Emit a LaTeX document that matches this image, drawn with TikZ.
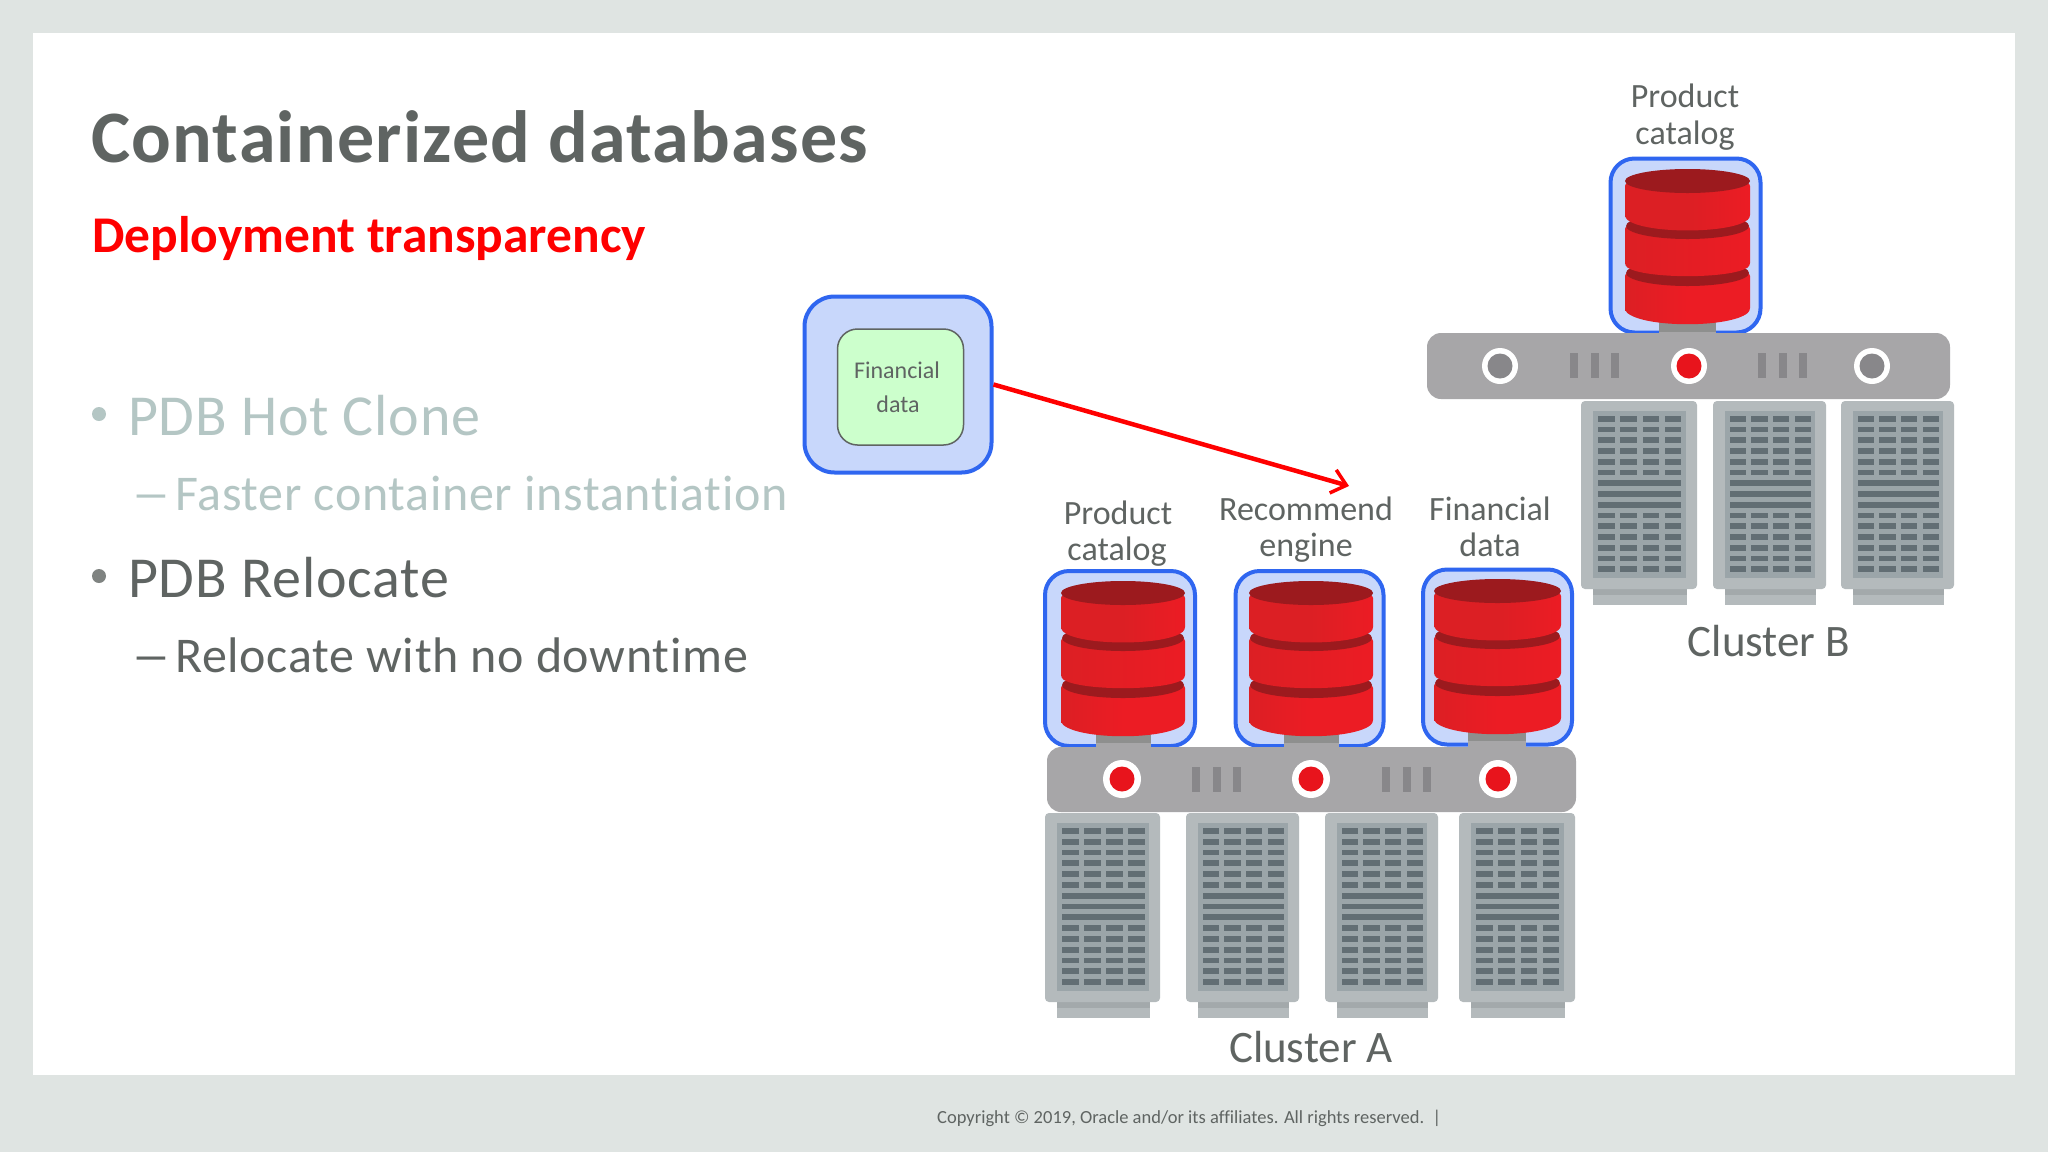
\documentclass[tikz,border=0pt]{standalone}
\usepackage{fontspec}
\usetikzlibrary{arrows.meta}
\setmainfont{Carlito}[Ligatures=NoCommon]
\definecolor{slidebg}{HTML}{DFE4E2}
\definecolor{txtgrey}{HTML}{5F6462}
\definecolor{txtfade}{HTML}{B4C6C4}
\definecolor{boxblue}{HTML}{2F66F0}
\definecolor{boxfill}{HTML}{C8D7FB}
\definecolor{greenfill}{HTML}{CCFFCC}
\definecolor{barfill}{HTML}{A7A6A8}
\definecolor{stemfill}{HTML}{8E8F8E}
\definecolor{slitfill}{HTML}{88878A}
\definecolor{srvfill}{HTML}{B4BABC}
\definecolor{srvpanel}{HTML}{9BA5A9}
\definecolor{srvcell}{HTML}{626E74}
\definecolor{srvfoot}{HTML}{A3A9AB}
\definecolor{dbred}{HTML}{EC1C24}
\definecolor{dbredl}{HTML}{DC1F24}
\definecolor{dbdark}{HTML}{9C1A1E}
\definecolor{chipred}{HTML}{E8141C}
\tikzset{
  x=1pt,y=-1pt,
  lab/.style={inner sep=0pt,anchor=base,text=txtgrey,font=\fontsize{34}{34}\selectfont},
  cluster/.style={inner sep=0pt,anchor=base,text=txtgrey,font=\fontsize{45}{45}\selectfont},
  dbbox/.style={draw=boxblue,line width=4pt,fill=boxfill,rounded corners=24pt,inner sep=0pt},
  segtop/.style={left color=dbredl,right color=dbred,middle color=dbredl},
  segmid/.style={left color=dbredl,right color=dbred},
  seglow/.style={left color=dbredl,right color=dbred,middle color=dbred},
  bulletdot/.style={circle,fill=#1,inner sep=0pt,minimum size=14pt},
  bodytxt/.style={inner sep=0pt,anchor=base west,text=#1},
  bighead/.style={font=\fontsize{58}{58}\selectfont\addfontfeatures{LetterSpace=1.5}},
  subline/.style={font=\fontsize{50}{50}\selectfont\addfontfeatures{LetterSpace=1.4}},
}
\newcommand{\dbcyl}[3]{%
\begin{scope}[shift={(#1,#2)},xscale=#3/124]
  \shade[seglow,rounded corners=3pt] (0,104) -- (0,142) .. controls (20,159) and (104,159) .. (124,142) -- (124,104) -- cycle;
  \fill[dbdark] (62,104) ellipse [x radius=61,y radius=13];
  \shade[segmid,rounded corners=3pt] (0,57) -- (0,97) .. controls (20,110) and (104,110) .. (124,97) -- (124,57) -- cycle;
  \fill[dbdark] (62,57) ellipse [x radius=61,y radius=13];
  \shade[segtop,rounded corners=3pt] (0,14) -- (0,49) .. controls (20,65) and (104,65) .. (124,49) -- (124,14) -- cycle;
  \fill[dbdark] (62,12) ellipse [x radius=62,y radius=12];
\end{scope}}
\newcommand{\stem}[3]{% x0 x1 bottom of cylinder
  \fill[stemfill] (#1,{#3-6}) rectangle (#2,{#3+7});
  \fill[barfill] (#1,{#3+7}) rectangle (#2,{#3+16});}
\newcommand{\srv}[4]{% x y w h
\begin{scope}[shift={(#1,#2)},xscale=#3/115,yscale=#4/189]
  \fill[srvfill] (12,189) rectangle (105,205);
  \fill[srvfoot] (12,189) rectangle (105,195);
  \fill[srvfill,rounded corners=4pt] (0,0) rectangle (115,189);
  \fill[srvpanel] (12,10) rectangle (104,178);
  \foreach \r in {0,1,2,3,4,5,9,10,11,12,13,14}{
    \foreach \c in {0,1,2,3}{
      \fill[srvcell] ({17+22*\c},{15+10.8*\r}) rectangle ({33.5+22*\c},{20.7+10.8*\r});
    }
  }
  \foreach \r in {6,7,8}{
    \fill[srvcell] (17,{15+10.8*\r}) rectangle (99.5,{20.7+10.8*\r});
  }
\end{scope}}
\newcommand{\slits}[2]{% x y
  \foreach \k in {0,1,2}{
    \fill[slitfill] ({#1+20.5*\k},#2) rectangle ({#1+8+20.5*\k},{#2+25});
  }}
\begin{document}
\begin{tikzpicture}
\useasboundingbox (0,0) rectangle (2048,1152);
\fill[slidebg] (0,0) rectangle (2048,1152);
\fill[white] (33,33) rectangle (2015,1075);
% text block
\node[bodytxt=txtgrey,font=\fontsize{74}{74}\selectfont\bfseries\addfontfeatures{LetterSpace=1.7}] (title) at (91,162) {Containerized databases};
\node[bodytxt=red,font=\fontsize{51.5}{51.5}\selectfont\bfseries] (sub) at (92,252) {Deployment transparency};
\node[bulletdot=txtfade] (b1) at (99,414) {};
\node[bodytxt=txtfade,bighead] (t1) at (128,435) {PDB Hot Clone};
\node[bodytxt=txtfade,subline] (d1) at (131,510) {\scalebox{1.6}[1]{–}};
\node[bodytxt=txtfade,subline] (t2) at (175,510) {Faster container instantiation};
\node[bulletdot=txtgrey!80] (b2) at (99,576) {};
\node[bodytxt=txtgrey,bighead] (t3) at (128,597) {PDB Relocate};
\node[bodytxt=txtgrey,subline] (d2) at (131,672) {\scalebox{1.6}[1]{–}};
\node[bodytxt=txtgrey,subline] (t4) at (175,672) {Relocate with no downtime};
% moving PDB
\node[draw=boxblue,line width=4pt,fill=boxfill,rounded corners=30pt,minimum width=187pt,minimum height=176pt,inner sep=0pt] (fin) at (898,384.5) {};
\node[draw=txtgrey,line width=1.5pt,fill=greenfill,rounded corners=20pt,minimum width=126pt,minimum height=116pt,inner sep=0pt] (green) at (900.5,387) {};
\node[lab,font=\fontsize{24}{24}\selectfont] (gl1) at (897,378) {Financial};
\node[lab,font=\fontsize{24}{24}\selectfont] (gl2) at (898,412) {data};
\coordinate (arrowend) at (1349,486);
\draw[red,line width=4.5pt,-{Straight Barb[length=14pt,width=24pt,line width=3.5pt]}] (fin.east) -- (arrowend);
% cluster B
\node[dbbox,minimum width=150pt,minimum height=174pt] (dbB) at (1685.5,245.5) {};
\stem{1659}{1716}{325}
\dbcyl{1625}{169}{125}
\fill[barfill,rounded corners=14pt] (1427,333) rectangle (1950,399);
\foreach \cx/\cc in {1500/slitfill,1689/chipred,1872/slitfill}{
  \fill[white] (\cx,366) circle (18);
  \fill[\cc] (\cx,366) circle (12.5);
}
\slits{1570}{353}
\slits{1758}{353}
\srv{1581}{401}{116}{188}
\srv{1713}{401}{113}{188}
\srv{1841}{401}{113}{188}
\node[lab] (lb1) at (1685,107) {Product};
\node[lab] (lb2) at (1685,144) {catalog};
\node[cluster] (clB) at (1769,656) {Cluster B};
% cluster A
\node[dbbox,minimum width=150pt,minimum height=175pt] (dbA1) at (1120,658.5) {};
\node[dbbox,minimum width=148pt,minimum height=175pt] (dbA2) at (1309.5,658.5) {};
\node[dbbox,minimum width=149pt,minimum height=175pt] (dbA3) at (1497.5,657) {};
\stem{1096}{1151}{736}
\stem{1284}{1339}{736}
\stem{1468}{1526}{734}
\dbcyl{1061}{581}{124}
\dbcyl{1249}{581}{124}
\dbcyl{1434}{579}{127}
\fill[barfill,rounded corners=14pt] (1047,747) rectangle (1576,812);
\foreach \cx in {1122,1311,1498}{
  \fill[white] (\cx,779) circle (19);
  \fill[chipred] (\cx,779) circle (12.5);
}
\slits{1192}{767}
\slits{1382}{767}
\srv{1045}{813}{115}{189}
\srv{1186}{813}{113}{189}
\srv{1325}{813}{113}{189}
\srv{1459}{813}{116}{189}
\node[lab] (la1) at (1118,524) {Product};
\node[lab] (la2) at (1117,560) {catalog};
\node[lab] (la3) at (1306,520) {Recommend};
\node[lab] (la4) at (1306,556) {engine};
\node[lab] (la5) at (1490,520) {Financial};
\node[lab] (la6) at (1490,556) {data};
\node[cluster] (clA) at (1311,1062) {Cluster A};
% footer
\node[bodytxt=txtgrey,font=\fontsize{18.5}{18.5}\selectfont] (foot) at (937,1123) {Copyright © 2019, Oracle and/or its affiliates. All rights reserved.\ \ |};
\end{tikzpicture}
\end{document}
